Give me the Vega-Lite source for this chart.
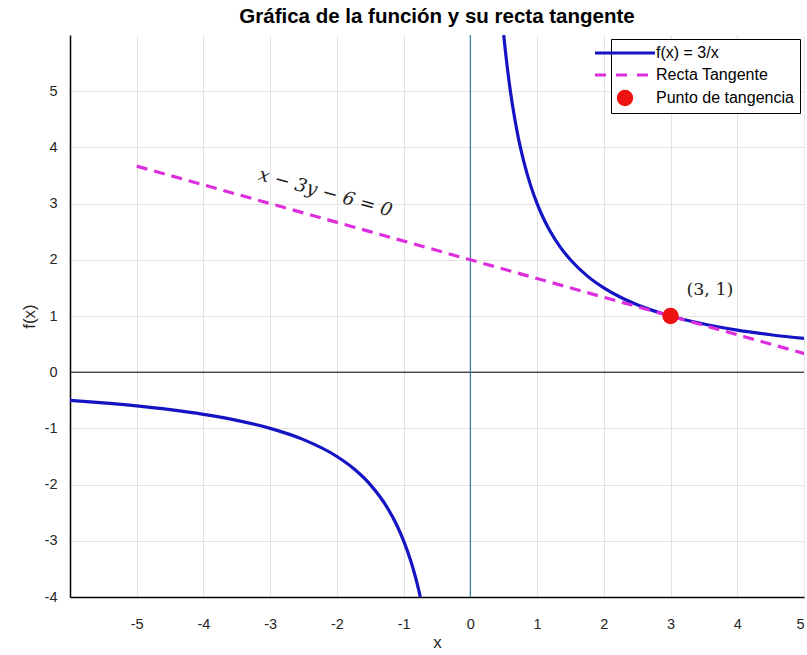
{
  "$schema": "https://vega.github.io/schema/vega-lite/v6.json",
  "width": 734,
  "height": 562,
  "autosize": "none",
  "padding": {"left": 70, "top": 35, "right": 3, "bottom": 58},
  "background": "white",
  "title": {
    "text": "Gráfica de la función y su recta tangente",
    "font": "Liberation Sans",
    "fontSize": 20.5,
    "fontWeight": "bold",
    "color": "#000000",
    "anchor": "middle",
    "offset": 7
  },
  "config": {
    "view": {"stroke": null},
    "axis": {
      "labelFont": "Liberation Sans",
      "labelFontSize": 14.5,
      "labelColor": "#262626",
      "titleFont": "Liberation Sans",
      "titleFontSize": 17,
      "titleFontWeight": "normal",
      "titleColor": "#262626",
      "gridColor": "#e3e3e3",
      "gridWidth": 1,
      "domainColor": "#000000",
      "domainWidth": 1.5,
      "tickSize": 0
    },
    "legend": {
      "orient": "top-right",
      "offset": 4,
      "strokeColor": "#000000",
      "fillColor": "#ffffff",
      "padding": 6,
      "labelFont": "Liberation Sans",
      "labelFontSize": 16,
      "labelColor": "#000000",
      "labelOffset": 23,
      "rowPadding": 6,
      "symbolType": "stroke",
      "symbolSize": 3600,
      "symbolStrokeWidth": 3
    }
  },
  "layer": [
    {
      "data": {"values": [{"v": 0}]},
      "mark": {"type": "rule", "color": "#000000", "strokeWidth": 1},
      "encoding": {"y": {"field": "v", "type": "quantitative"}}
    },
    {
      "data": {"values": [{"v": 0}]},
      "mark": {"type": "rule", "color": "#2f7c9c", "strokeWidth": 1.2},
      "encoding": {"x": {"field": "v", "type": "quantitative"}}
    },
    {
      "data": {
        "values": [
          {"x": 0.5, "y": 6, "serie": "f(x) = 3/x", "rama": "der"},
          {"x": 0.52, "y": 5.769, "serie": "f(x) = 3/x", "rama": "der"},
          {"x": 0.55, "y": 5.4545, "serie": "f(x) = 3/x", "rama": "der"},
          {"x": 0.6, "y": 5, "serie": "f(x) = 3/x", "rama": "der"},
          {"x": 0.65, "y": 4.615, "serie": "f(x) = 3/x", "rama": "der"},
          {"x": 0.7, "y": 4.286, "serie": "f(x) = 3/x", "rama": "der"},
          {"x": 0.75, "y": 4, "serie": "f(x) = 3/x", "rama": "der"},
          {"x": 0.8, "y": 3.75, "serie": "f(x) = 3/x", "rama": "der"},
          {"x": 0.9, "y": 3.333, "serie": "f(x) = 3/x", "rama": "der"},
          {"x": 1.0, "y": 3, "serie": "f(x) = 3/x", "rama": "der"},
          {"x": 1.1, "y": 2.727, "serie": "f(x) = 3/x", "rama": "der"},
          {"x": 1.2, "y": 2.5, "serie": "f(x) = 3/x", "rama": "der"},
          {"x": 1.35, "y": 2.222, "serie": "f(x) = 3/x", "rama": "der"},
          {"x": 1.5, "y": 2, "serie": "f(x) = 3/x", "rama": "der"},
          {"x": 1.75, "y": 1.714, "serie": "f(x) = 3/x", "rama": "der"},
          {"x": 2.0, "y": 1.5, "serie": "f(x) = 3/x", "rama": "der"},
          {"x": 2.25, "y": 1.333, "serie": "f(x) = 3/x", "rama": "der"},
          {"x": 2.5, "y": 1.2, "serie": "f(x) = 3/x", "rama": "der"},
          {"x": 2.75, "y": 1.091, "serie": "f(x) = 3/x", "rama": "der"},
          {"x": 3.0, "y": 1, "serie": "f(x) = 3/x", "rama": "der"},
          {"x": 3.5, "y": 0.857, "serie": "f(x) = 3/x", "rama": "der"},
          {"x": 4.0, "y": 0.75, "serie": "f(x) = 3/x", "rama": "der"},
          {"x": 4.5, "y": 0.667, "serie": "f(x) = 3/x", "rama": "der"},
          {"x": 5.0, "y": 0.6, "serie": "f(x) = 3/x", "rama": "der"},
          {"x": 5.1, "y": 0.588, "serie": "f(x) = 3/x", "rama": "der"},
          {"x": -6, "y": -0.5, "serie": "f(x) = 3/x", "rama": "izq"},
          {"x": -5.5, "y": -0.5455, "serie": "f(x) = 3/x", "rama": "izq"},
          {"x": -5, "y": -0.6, "serie": "f(x) = 3/x", "rama": "izq"},
          {"x": -4.5, "y": -0.667, "serie": "f(x) = 3/x", "rama": "izq"},
          {"x": -4, "y": -0.75, "serie": "f(x) = 3/x", "rama": "izq"},
          {"x": -3.5, "y": -0.857, "serie": "f(x) = 3/x", "rama": "izq"},
          {"x": -3, "y": -1, "serie": "f(x) = 3/x", "rama": "izq"},
          {"x": -2.5, "y": -1.2, "serie": "f(x) = 3/x", "rama": "izq"},
          {"x": -2, "y": -1.5, "serie": "f(x) = 3/x", "rama": "izq"},
          {"x": -1.75, "y": -1.714, "serie": "f(x) = 3/x", "rama": "izq"},
          {"x": -1.5, "y": -2, "serie": "f(x) = 3/x", "rama": "izq"},
          {"x": -1.25, "y": -2.4, "serie": "f(x) = 3/x", "rama": "izq"},
          {"x": -1.1, "y": -2.727, "serie": "f(x) = 3/x", "rama": "izq"},
          {"x": -1, "y": -3, "serie": "f(x) = 3/x", "rama": "izq"},
          {"x": -0.9, "y": -3.333, "serie": "f(x) = 3/x", "rama": "izq"},
          {"x": -0.85, "y": -3.529, "serie": "f(x) = 3/x", "rama": "izq"},
          {"x": -0.8, "y": -3.75, "serie": "f(x) = 3/x", "rama": "izq"},
          {"x": -0.75, "y": -4, "serie": "f(x) = 3/x", "rama": "izq"}
        ]
      },
      "mark": {"type": "line", "strokeWidth": 3.2, "interpolate": "monotone", "clip": true},
      "encoding": {
        "x": {
          "field": "x", "type": "quantitative",
          "scale": {"domain": [-6, 5], "nice": false, "zero": false},
          "axis": {"title": "x", "values": [-5, -4, -3, -2, -1, 0, 1, 2, 3, 4, 5], "labelExpr": "'' + datum.value", "labelPadding": 20, "titlePadding": 4}
        },
        "y": {
          "field": "y", "type": "quantitative",
          "scale": {"domain": [-4, 6], "nice": false, "zero": false},
          "axis": {"title": "f(x)", "values": [-4, -3, -2, -1, 0, 1, 2, 3, 4, 5], "labelExpr": "'' + datum.value", "labelPadding": 13, "titlePadding": 6}
        },
        "detail": {"field": "rama"},
        "order": {"field": "x", "type": "quantitative"},
        "color": {
          "field": "serie", "type": "nominal",
          "scale": {
            "domain": ["f(x) = 3/x", "Recta Tangente", "Punto de tangencia"],
            "range": ["#1414c4", "#dd2edd", "#ee1111"]
          },
          "legend": {
            "title": null,
            "encode": {
              "symbols": {
                "update": {
                  "shape": {"signal": "datum.value === 'Punto de tangencia' ? 'circle' : 'stroke'"},
                  "size": {"signal": "datum.value === 'Punto de tangencia' ? 270 : 3600"},
                  "strokeDash": {"signal": "datum.value === 'Recta Tangente' ? [11, 10] : [1, 0]"},
                  "fill": {"signal": "datum.value === 'Punto de tangencia' ? '#ee1111' : 'transparent'"},
                  "strokeWidth": {"signal": "datum.value === 'Punto de tangencia' ? 0 : 3"}
                }
              }
            }
          }
        }
      }
    },
    {
      "data": {
        "values": [
          {"x": -5, "y": 3.667, "serie": "Recta Tangente"},
          {"x": 5.1, "y": 0.3, "serie": "Recta Tangente"}
        ]
      },
      "mark": {"type": "line", "strokeWidth": 3.2, "strokeDash": [11, 7], "clip": true},
      "encoding": {
        "x": {"field": "x", "type": "quantitative"},
        "y": {"field": "y", "type": "quantitative"},
        "color": {"field": "serie", "type": "nominal"}
      }
    },
    {
      "data": {"values": [{"x": 3, "y": 1, "serie": "Punto de tangencia"}]},
      "mark": {"type": "point", "filled": true, "size": 270, "opacity": 1},
      "encoding": {
        "x": {"field": "x", "type": "quantitative"},
        "y": {"field": "y", "type": "quantitative"},
        "color": {"field": "serie", "type": "nominal"}
      }
    },
    {
      "data": {"values": [{"x": -2.17, "y": 3.2, "etiqueta": "x − 3y − 6 = 0"}]},
      "mark": {"type": "text", "font": "DejaVu Serif", "fontStyle": "italic", "fontSize": 18.5, "angle": 15.5, "color": "#222222", "align": "center", "baseline": "middle"},
      "encoding": {
        "x": {"field": "x", "type": "quantitative"},
        "y": {"field": "y", "type": "quantitative"},
        "text": {"field": "etiqueta"}
      }
    },
    {
      "data": {"values": [{"x": 3.59, "y": 1.47, "etiqueta": "(3, 1)"}]},
      "mark": {"type": "text", "font": "DejaVu Serif", "fontSize": 17.5, "color": "#222222", "align": "center", "baseline": "middle"},
      "encoding": {
        "x": {"field": "x", "type": "quantitative"},
        "y": {"field": "y", "type": "quantitative"},
        "text": {"field": "etiqueta"}
      }
    }
  ]
}
